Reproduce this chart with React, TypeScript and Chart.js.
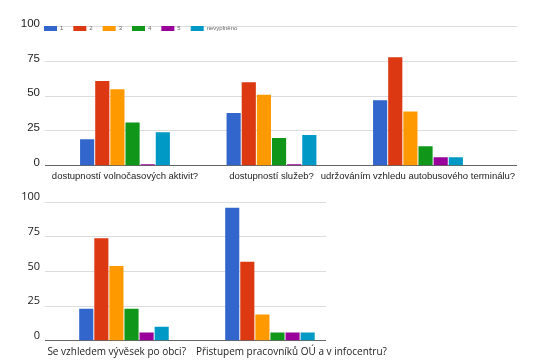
import React, { useEffect, useRef } from 'react';
import { Chart, registerables } from 'chart.js';

Chart.register(...registerables);

// ---- data ----
const seriesLabels = ['1', '2', '3', '4', '5', 'nevyplněno'];
const seriesColors = ['#3366cc', '#dc3912', '#ff9900', '#109618', '#990099', '#0099c6'];
const yTicks = [0, 25, 50, 75, 100];

const topCategories = [
  'dostupností volnočasových aktivit?',
  'dostupností služeb?',
  'udržováním vzhledu autobusového terminálu?',
];
const top1 = [19, 38, 47];
const top2 = [61, 60, 78];
const top3 = [55, 51, 39];
const top4 = [31, 20, 14];
const top5 = [1, 1, 6];
const topNone = [24, 22, 6];

const bottomCategories = ['Se vzhledem vývěsek po obci?', 'Přistupem pracovníků OÚ a v infocentru?'];
const bottom1 = [23, 96];
const bottom2 = [74, 57];
const bottom3 = [54, 19];
const bottom4 = [23, 6];
const bottom5 = [6, 6];
const bottomNone = [10, 6];

const TOP_FONT = "'Liberation Sans', Arial, sans-serif";
const BOTTOM_FONT = "'Open Sans', sans-serif";

const legendOnTopGrid = {
  id: 'legendOnTopGrid',
  beforeDraw(chart: any) {
    const lg = chart.legend;
    const ys = chart.scales.y;
    if (!lg || !ys || !lg.options.display) return;
    const pad = lg.options.labels.padding;
    const gy = ys.getPixelForValue(ys.max);
    lg.left = chart.chartArea.left - pad - 1;
    lg.top = gy - 1.2 - pad;
    lg.bottom = lg.top + 2 * pad + 12;
    lg.height = lg.bottom - lg.top;
  },
};

interface Spec {
  categories: string[];
  series: number[][];
  labelAt: number[];
  xMin: number;
  xMax: number;
  font: string;
  xFontSize: number;
  yFontSize: number;
  yLabelOffset: number;
  padTop: number;
  padRight: number;
  xAxisHeight: number;
  showLegend: boolean;
}

function buildConfig(spec: Spec): any {
  return {
    type: 'bar',
    data: {
      datasets: spec.series.map((vals, k) => ({
        label: seriesLabels[k],
        data: vals.map((v, i) => ({ x: i, y: v })),
        backgroundColor: seriesColors[k],
        borderWidth: 0,
        categoryPercentage: 0.62,
        barPercentage: 0.935,
      })),
    },
    options: {
      responsive: false,
      maintainAspectRatio: false,
      animation: false,
      devicePixelRatio: 1,
      layout: { padding: { top: spec.padTop, right: spec.padRight, bottom: 0, left: 0 } },
      plugins: {
        tooltip: { enabled: false },
        legend: {
          display: spec.showLegend,
          position: 'top',
          align: 'start',
          maxHeight: 1,
          labels: {
            boxWidth: 13,
            boxHeight: 5,
            padding: 10,
            color: '#666',
            font: { family: TOP_FONT, size: 6 },
          },
        },
      },
      scales: {
        x: {
          type: 'linear',
          min: spec.xMin,
          max: spec.xMax,
          offset: false,
          grid: { display: false, drawTicks: false },
          border: { display: false },
          afterBuildTicks: (s: any) => {
            s.ticks = spec.labelAt.map((v) => ({ value: v }));
          },
          afterFit: (s: any) => {
            s.height = spec.xAxisHeight;
          },
          ticks: {
            autoSkip: false,
            maxRotation: 0,
            minRotation: 0,
            padding: 5,
            color: '#222',
            font: { family: spec.font, size: spec.xFontSize },
            callback: (_v: any, i: number) => spec.categories[i],
          },
        },
        y: {
          type: 'linear',
          min: 0,
          max: 100,
          afterBuildTicks: (s: any) => {
            s.ticks = yTicks.map((v) => ({ value: v }));
          },
          afterFit: (s: any) => {
            s.width = 45;
          },
          grid: {
            drawTicks: false,
            color: (ctx: any) => (ctx.tick && ctx.tick.value === 0 ? '#666' : '#dcdcdc'),
            lineWidth: 1,
          },
          border: { display: false },
          ticks: {
            padding: 5,
            labelOffset: spec.yLabelOffset,
            color: '#222',
            font: { family: spec.font, size: spec.yFontSize },
          },
        },
      },
    },
    plugins: spec.showLegend ? [legendOnTopGrid] : [],
  };
}

function BarPanel({ spec, top, height }: { spec: Spec; top: number; height: number }) {
  const ref = useRef<HTMLCanvasElement | null>(null);
  useEffect(() => {
    if (!ref.current) return;
    const chart = new Chart(ref.current, buildConfig(spec));
    return () => chart.destroy();
  }, [spec]);
  return (
    <canvas
      ref={ref}
      width={555}
      height={height}
      style={{ position: 'absolute', left: 0, top, width: 555, height, display: 'block' }}
    />
  );
}

const topSpec: Spec = {
  categories: topCategories,
  series: [top1, top2, top3, top4, top5, topNone],
  labelAt: [0, 1, 2],
  xMin: -0.546,
  xMax: 2.676,
  font: TOP_FONT,
  xFontSize: 9.5,
  yFontSize: 11.5,
  yLabelOffset: -3,
  padTop: 25.7,
  padRight: 38,
  xAxisHeight: 19.3,
  showLegend: true,
};

const bottomSpec: Spec = {
  categories: bottomCategories,
  series: [bottom1, bottom2, bottom3, bottom4, bottom5, bottomNone],
  labelAt: [-0.05, 1.147],
  xMin: -0.541,
  xMax: 1.384,
  font: BOTTOM_FONT,
  xFontSize: 10,
  yFontSize: 11,
  yLabelOffset: -5,
  padTop: 17.3,
  padRight: 229,
  xAxisHeight: 22.3,
  showLegend: false,
};

export default function App() {
  return (
    <div style={{ position: 'absolute', left: 0, top: 0, width: 555, height: 363, background: '#fff', overflow: 'hidden' }}>
      <BarPanel spec={topSpec} top={0} height={185} />
      <BarPanel spec={bottomSpec} top={185} height={178} />
    </div>
  );
}
